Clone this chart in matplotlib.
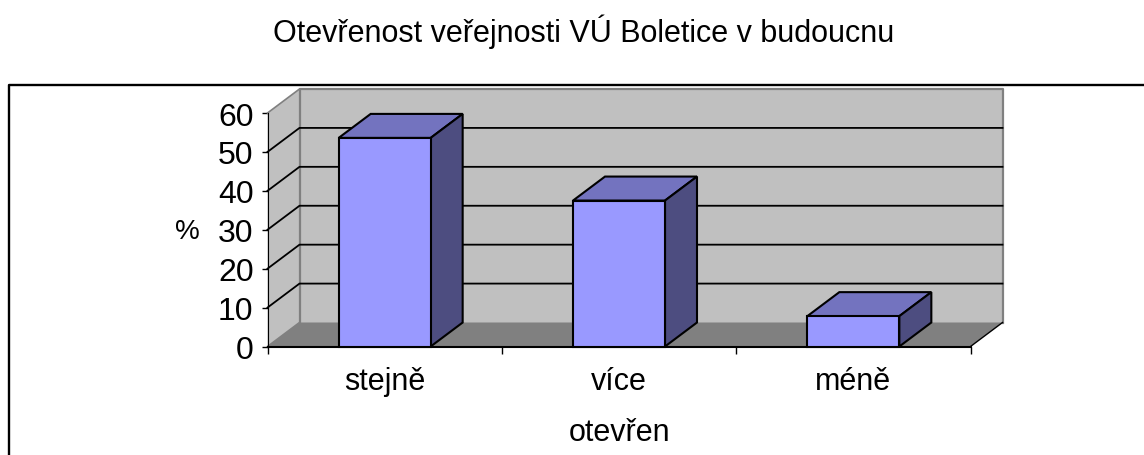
import matplotlib
matplotlib.use('Agg')
import matplotlib.pyplot as plt
from matplotlib.patches import Polygon
from matplotlib.lines import Line2D

categories = ['stejně', 'více', 'méně']
values = [53.6, 37.5, 7.8]
y_ticks = [0, 10, 20, 30, 40, 50, 60]

plt.rcParams['font.family'] = ['Liberation Sans', 'DejaVu Sans']

W, H = 1144, 456
fig = plt.figure(figsize=(W / 100, H / 100), dpi=100)
ax = fig.add_axes([267.5 / W, (H - 347.5) / H, 703 / W, 233.5 / H])
ax.set_xlim(0, 3)
ax.set_ylim(0, 60)

# depth of the fake 3d box, in data units
dx = 32 / (703 / 3)
dy = 24 / (233.5 / 60)

for s in ax.spines.values():
    s.set_visible(False)
ax.patch.set_visible(False)


def poly(pts, fc, ec='none', lw=0, z=1):
    ax.add_patch(Polygon(pts, closed=True, facecolor=fc, edgecolor=ec,
                         linewidth=lw, zorder=z, clip_on=False, joinstyle='miter'))


# walls and floor
poly([(0, 0), (dx, dy), (dx, 60 + dy), (0, 60)], '#c0c0c0', z=1)
poly([(dx, dy), (3 + dx, dy), (3 + dx, 60 + dy), (dx, 60 + dy)], '#c0c0c0', z=1)
poly([(0, 0), (3, 0), (3 + dx, dy), (dx, dy)], '#808080', z=1)

# wall edges
ax.plot([dx, dx, 3 + dx, 3 + dx], [dy, 60 + dy, 60 + dy, dy], color='#808080', lw=1.6, zorder=2, clip_on=False)
ax.plot([0, dx], [60, 60 + dy], color='#808080', lw=1.2, zorder=2, clip_on=False)
ax.plot([0, dx], [0, dy], color='#808080', lw=1.2, zorder=2, clip_on=False)

# gridlines
for t in y_ticks[1:-1]:
    ax.plot([0, dx, 3 + dx], [t, t + dy, t + dy], color='black', lw=1.3, zorder=3, clip_on=False)

ax.plot([0, 0], [0, 60], color='black', lw=0.8, zorder=3, clip_on=False)
ax.plot([3, 3 + dx], [0, dy], color='black', lw=1.0, zorder=3, clip_on=False)
ax.plot([0, 3], [0, 0], color='black', lw=1.5, zorder=3, clip_on=False)

# bars
bar_w = 92 / (703 / 3)
xs = [i + 0.5 for i in range(len(categories))]
ax.bar(xs, values, width=bar_w, color='#9999ff', edgecolor='black', linewidth=1.5, zorder=6, clip_on=False)
for x, v in zip(xs, values):
    l, r = x - bar_w / 2, x + bar_w / 2
    poly([(l, v), (r, v), (r + dx, v + dy), (l + dx, v + dy)], '#7373bf', 'black', 1.5, 5)
    poly([(r, 0), (r + dx, dy), (r + dx, v + dy), (r, v)], '#4d4d80', 'black', 1.5, 5)

# axes ticks and labels
ax.set_yticks(y_ticks)
ax.set_yticklabels([str(t) for t in y_ticks], fontsize=23, color='black')
ax.tick_params(axis='y', length=4, width=1, pad=6)
ax.set_xticks([0, 1, 2, 3])
ax.set_xticklabels([])
ax.set_xticks(xs, minor=True)
ax.set_xticklabels(categories, minor=True, fontsize=22)
ax.tick_params(axis='x', which='major', length=5, width=1)
ax.tick_params(axis='x', which='minor', length=0, pad=14)

fig.text(187 / W, 1 - 232 / H, '%', fontsize=20, ha='center', va='center')
fig.text(620 / W, 1 - 433 / H, 'otevřen', fontsize=22, ha='center', va='center')
fig.text(584 / W, 1 - 32 / H, 'Otevřenost veřejnosti VÚ Boletice v budoucnu', fontsize=22, ha='center', va='center')

# chart border
fig.add_artist(Line2D([9 / W, 9 / W, 1], [0, 1 - 86 / H, 1 - 86 / H], color='black', lw=1.7))

fig.savefig('out.png', dpi=100)
